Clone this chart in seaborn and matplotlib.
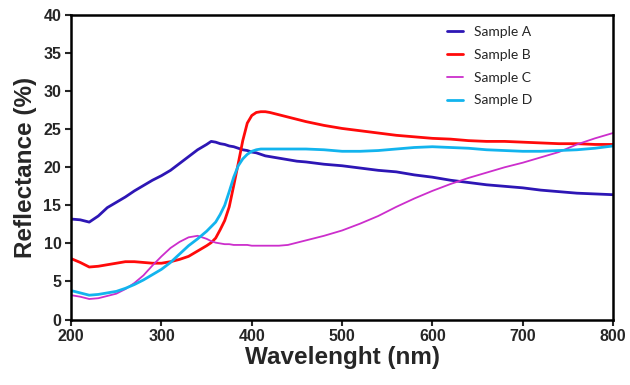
import pandas as pd
import matplotlib
matplotlib.use("Agg")
import matplotlib.pyplot as plt
import seaborn as sns

# wavelength grid (nm) and reflectance (%)
wavelength = [200, 210, 220, 230, 240, 250, 260, 270, 280, 290, 300, 310, 320, 330, 340,
              350, 355, 360, 365, 370, 375, 380, 385, 390, 395, 400, 405, 410, 415, 420,
              430, 440, 450, 460, 480, 500, 520, 540, 560, 580, 600, 620, 640, 660, 680,
              700, 720, 740, 760, 780, 800]

sample_a = [13.2, 13.1, 12.8, 13.6, 14.7, 15.4, 16.1, 16.9, 17.6, 18.3, 18.9, 19.6, 20.5, 21.4, 22.3,
            23.0, 23.4, 23.3, 23.1, 23.0, 22.8, 22.7, 22.5, 22.3, 22.2, 22.0, 21.9, 21.7, 21.5, 21.4,
            21.2, 21.0, 20.8, 20.7, 20.4, 20.2, 19.9, 19.6, 19.4, 19.0, 18.7, 18.3, 18.0, 17.7, 17.5,
            17.3, 17.0, 16.8, 16.6, 16.5, 16.4]

sample_b = [8.0, 7.5, 6.9, 7.0, 7.2, 7.4, 7.6, 7.6, 7.5, 7.4, 7.4, 7.6, 7.9, 8.3, 9.0,
            9.7, 10.1, 10.7, 11.8, 13.0, 14.8, 17.6, 20.5, 23.5, 25.8, 26.8, 27.2, 27.3, 27.3, 27.2,
            26.9, 26.6, 26.3, 26.0, 25.5, 25.1, 24.8, 24.5, 24.2, 24.0, 23.8, 23.7, 23.5, 23.4, 23.4,
            23.3, 23.2, 23.1, 23.1, 23.0, 23.0]

sample_c = [3.2, 3.0, 2.7, 2.8, 3.1, 3.4, 4.0, 4.8, 5.8, 7.1, 8.3, 9.4, 10.2, 10.8, 11.0,
            10.6, 10.3, 10.1, 10.0, 9.9, 9.9, 9.8, 9.8, 9.8, 9.8, 9.7, 9.7, 9.7, 9.7, 9.7,
            9.7, 9.8, 10.1, 10.4, 11.0, 11.7, 12.6, 13.6, 14.8, 15.9, 16.9, 17.8, 18.6, 19.3, 20.0,
            20.6, 21.3, 22.0, 23.0, 23.8, 24.5]

sample_d = [3.8, 3.5, 3.2, 3.3, 3.5, 3.7, 4.1, 4.6, 5.2, 5.9, 6.6, 7.5, 8.6, 9.7, 10.6,
            11.6, 12.2, 12.8, 13.8, 15.0, 16.8, 18.7, 20.2, 21.1, 21.7, 22.1, 22.3, 22.4, 22.4, 22.4,
            22.4, 22.4, 22.4, 22.4, 22.3, 22.1, 22.1, 22.2, 22.4, 22.6, 22.7, 22.6, 22.5, 22.3, 22.2,
            22.1, 22.1, 22.2, 22.3, 22.5, 22.8]

labels = ["Sample A", "Sample B", "Sample C", "Sample D"]
colors = ["#2D16B5", "#FF0A0A", "#CC2ECC", "#12B4EE"]
widths = [2.0, 2.0, 1.3, 2.0]

frames = []
for name, vals in zip(labels, [sample_a, sample_b, sample_c, sample_d]):
    frames.append(pd.DataFrame({"wavelength": wavelength, "reflectance": vals, "sample": name}))
data = pd.concat(frames, ignore_index=True)

sns.set_style("white")
plt.rcParams['font.family'] = ['Liberation Sans', 'DejaVu Sans']

fig = plt.figure(figsize=(6.3, 3.85), dpi=100)
ax = fig.add_axes([0.113, 0.170, 0.860, 0.791])

for name, col, lw in zip(labels, colors, widths):
    sns.lineplot(data=data[data["sample"] == name], x="wavelength", y="reflectance",
                 color=col, linewidth=lw, label=name, ax=ax)

ax.set_xlim(200, 800)
ax.set_ylim(0, 40)
ax.set_xticks(range(200, 801, 100))
ax.set_yticks(range(0, 41, 5))
ax.tick_params(axis='both', direction='out', length=4, width=1.5, labelsize=11.5,
               left=True, bottom=True, pad=3)
for lab in ax.get_xticklabels() + ax.get_yticklabels():
    lab.set_fontweight('bold')
for sp in ax.spines.values():
    sp.set_linewidth(1.8)
    sp.set_color('black')

ax.set_xlabel("Wavelenght (nm)", fontsize=17.5, fontweight='bold', labelpad=1)
ax.set_ylabel("Reflectance (%)", fontsize=17.5, fontweight='bold', labelpad=5)

leg = ax.legend(loc='upper left', bbox_to_anchor=(0.67, 1.005), frameon=False,
                handlelength=1.2, labelspacing=0.78, prop={'family': 'Lato', 'size': 10})

fig.savefig("out.png", dpi=100)
